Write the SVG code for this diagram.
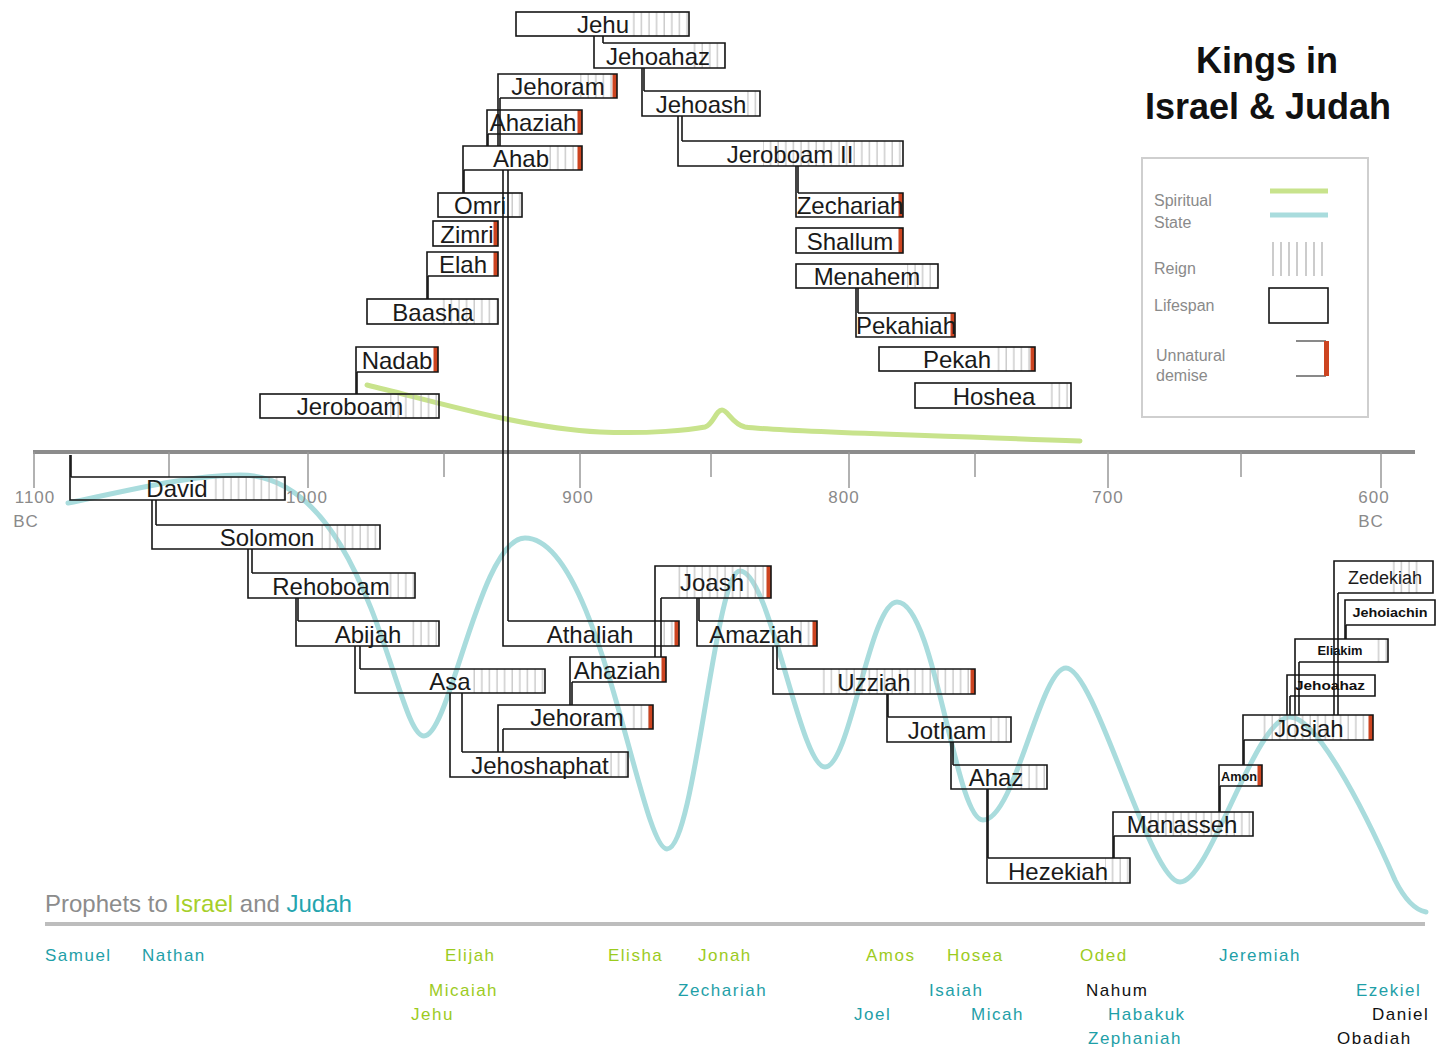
<svg xmlns="http://www.w3.org/2000/svg" width="1436" height="1047" viewBox="0 0 1436 1047">
<defs>
<pattern id="reign" patternUnits="userSpaceOnUse" x="0" y="0" width="7.6" height="40"><line x1="3" y1="0" x2="3" y2="40" stroke="#b9b9b9" stroke-width="1.1"/></pattern>
</defs>
<style>
text{font-family:'Liberation Sans',Arial,sans-serif}
.box{fill:none;stroke:#151515;stroke-width:1.6}
.nm{font-size:24px;fill:#1a1a1a;text-anchor:middle}
.sm{font-size:13px;font-weight:bold;fill:#111;text-anchor:middle}
.hatch{fill:url(#reign)}
.dem{fill:#cc4420}
.conn line{stroke:#151515;stroke-width:1.6}
.ax{font-size:17px;fill:#8a8a8a;text-anchor:middle;letter-spacing:1px}
.tick{stroke:#999;stroke-width:1.5}
.leg{font-size:16px;fill:#8a8a8a}
.pr{font-size:17px;letter-spacing:1.5px}
.is{fill:#9ccb1e}
.ju{fill:#1f9fa8}
.bk{fill:#111}
</style>
<rect width="1436" height="1047" fill="#fff"/>

<g id="title">
<text x="1267" y="73" font-size="36" font-weight="bold" text-anchor="middle" fill="#111">Kings in</text>
<text x="1268" y="119" font-size="36" font-weight="bold" text-anchor="middle" fill="#111">Israel &amp; Judah</text>
</g>

<g id="spiritual-curves" fill="none" stroke-linecap="round">
<path d="M367,385 C430,400 520,428 600,432 C650,434 690,430 705,427 C713,425 716,410 722,410 C728,410 732,424 745,427 C780,432 900,434 1080,441" stroke="#c8e38c" stroke-width="5"/>
<path d="M68,503 C130,490 190,475 240,475 C370,475 395,736 424,736 C450,736 480,538 525,538 C600,538 640,849 667,849 C695,849 715,571 740,571 C770,571 800,767 825,767 C850,767 870,602 897,602 C935,602 955,820 983,820 C1015,820 1040,668 1066,668 C1095,668 1150,882 1180,882 C1210,882 1255,717 1290,717 C1315,717 1360,800 1395,880 C1405,900 1415,910 1426,912" stroke="#a9dcdd" stroke-width="5"/>
</g>

<g id="axis">
<line x1="33" y1="452" x2="1415" y2="452" stroke="#8c8c8c" stroke-width="4"/>
<line class="tick" x1="34" y1="452" x2="34" y2="488"/>
<line class="tick" x1="308" y1="452" x2="308" y2="488"/>
<line class="tick" x1="580" y1="452" x2="580" y2="488"/>
<line class="tick" x1="849" y1="452" x2="849" y2="488"/>
<line class="tick" x1="1108" y1="452" x2="1108" y2="488"/>
<line class="tick" x1="1381" y1="452" x2="1381" y2="488"/>
<line class="tick" x1="169" y1="452" x2="169" y2="477"/>
<line class="tick" x1="444" y1="452" x2="444" y2="477"/>
<line class="tick" x1="711" y1="452" x2="711" y2="477"/>
<line class="tick" x1="975" y1="452" x2="975" y2="477"/>
<line class="tick" x1="1241" y1="452" x2="1241" y2="477"/>
<text class="ax" x="35" y="503">1100</text>
<text class="ax" x="26" y="527">BC</text>
<text class="ax" x="307" y="503">1000</text>
<text class="ax" x="578" y="503">900</text>
<text class="ax" x="844" y="503">800</text>
<text class="ax" x="1108" y="503">700</text>
<text class="ax" x="1374" y="503">600</text>
<text class="ax" x="1371" y="527">BC</text>
</g>

<g id="connectors" class="conn">
<line x1="594" y1="36" x2="594" y2="43"/><line x1="603" y1="36" x2="603" y2="43"/>
<line x1="642" y1="68" x2="642" y2="91"/><line x1="644" y1="68" x2="644" y2="91"/>
<line x1="678" y1="116" x2="678" y2="141"/><line x1="682" y1="116" x2="682" y2="141"/>
<line x1="796" y1="166" x2="796" y2="193"/><line x1="798" y1="166" x2="798" y2="193"/>
<line x1="856" y1="288" x2="856" y2="313"/><line x1="858" y1="288" x2="858" y2="313"/>
<line x1="498" y1="98" x2="498" y2="146"/><line x1="500" y1="98" x2="500" y2="146"/>
<line x1="487" y1="134" x2="487" y2="146"/><line x1="488" y1="134" x2="488" y2="146"/>
<line x1="463" y1="170" x2="463" y2="193"/><line x1="464" y1="170" x2="464" y2="193"/>
<line x1="427" y1="276" x2="427" y2="299"/><line x1="428" y1="276" x2="428" y2="299"/>
<line x1="356" y1="372" x2="356" y2="394"/><line x1="357" y1="372" x2="357" y2="394"/>
<line x1="70" y1="455" x2="70" y2="477"/><line x1="71" y1="455" x2="71" y2="477"/>
<line x1="152" y1="500" x2="152" y2="525"/><line x1="156" y1="500" x2="156" y2="525"/>
<line x1="248" y1="549" x2="248" y2="573"/><line x1="252" y1="549" x2="252" y2="573"/>
<line x1="296" y1="598" x2="296" y2="621"/><line x1="298" y1="598" x2="298" y2="621"/>
<line x1="355" y1="646" x2="355" y2="669"/><line x1="360" y1="646" x2="360" y2="669"/>
<line x1="450" y1="693" x2="450" y2="752"/><line x1="462" y1="693" x2="462" y2="752"/>
<line x1="498" y1="729" x2="498" y2="752"/><line x1="503" y1="729" x2="503" y2="752"/>
<line x1="570" y1="682" x2="570" y2="705"/><line x1="572" y1="682" x2="572" y2="705"/>
<line x1="503" y1="170" x2="503" y2="621"/><line x1="508" y1="170" x2="508" y2="621"/>
<line x1="655" y1="598" x2="655" y2="657"/><line x1="661" y1="598" x2="661" y2="657"/>
<line x1="697" y1="598" x2="697" y2="621"/><line x1="699" y1="598" x2="699" y2="621"/>
<line x1="773" y1="646" x2="773" y2="669"/><line x1="777" y1="646" x2="777" y2="669"/>
<line x1="887" y1="694" x2="887" y2="717"/><line x1="888" y1="694" x2="888" y2="717"/>
<line x1="951" y1="742" x2="951" y2="765"/><line x1="953" y1="742" x2="953" y2="765"/>
<line x1="987" y1="789" x2="987" y2="858"/><line x1="988" y1="789" x2="988" y2="858"/>
<line x1="1113" y1="836" x2="1113" y2="858"/><line x1="1114" y1="836" x2="1114" y2="858"/>
<line x1="1219" y1="786" x2="1219" y2="812"/><line x1="1220" y1="786" x2="1220" y2="812"/>
<line x1="1243" y1="740" x2="1243" y2="765"/><line x1="1244" y1="740" x2="1244" y2="765"/>
<line x1="1287" y1="696" x2="1287" y2="715"/><line x1="1290" y1="696" x2="1290" y2="715"/>
<line x1="1295" y1="662" x2="1295" y2="715"/><line x1="1299" y1="662" x2="1299" y2="715"/>
<line x1="1345" y1="625" x2="1345" y2="639"/><line x1="1346" y1="625" x2="1346" y2="639"/>
<line x1="1334" y1="593" x2="1334" y2="715"/><line x1="1338" y1="593" x2="1338" y2="715"/>
</g>

<g id="israel">
<g id="k-jehu"><rect class="hatch" x="630" y="12" width="59" height="24"/><rect class="box" x="516" y="12" width="173" height="24"/><text class="nm" x="603" y="33">Jehu</text></g>
<g id="k-jehoahaz-i"><rect class="hatch" x="693" y="43" width="32" height="25"/><path class="box" d="M603,43H725V68H594V43"/><text class="nm" x="658" y="65">Jehoahaz</text></g>
<g id="k-jehoash"><rect class="hatch" x="747" y="91" width="13" height="25"/><path class="box" d="M644,91H760V116H642V91"/><text class="nm" x="701" y="113">Jehoash</text></g>
<g id="k-jeroboam2"><rect class="hatch" x="763" y="141" width="140" height="25"/><path class="box" d="M682,141H903V166H678V141"/><text class="nm" x="790" y="163">Jeroboam II</text></g>
<g id="k-zechariah"><rect class="dem" x="898.5" y="193" width="4.5" height="24"/><path class="box" d="M798,193H903V217H796V193"/><text class="nm" x="850" y="214">Zechariah</text></g>
<g id="k-shallum"><rect class="dem" x="898.5" y="228" width="4.5" height="25"/><rect class="box" x="796" y="228" width="107" height="25"/><text class="nm" x="850" y="250">Shallum</text></g>
<g id="k-menahem"><rect class="hatch" x="907" y="264" width="31" height="24"/><rect class="box" x="796" y="264" width="142" height="24"/><text class="nm" x="867" y="285">Menahem</text></g>
<g id="k-pekahiah"><rect class="hatch" x="946" y="313" width="9" height="24"/><rect class="dem" x="950.5" y="313" width="4.5" height="24"/><path class="box" d="M858,313H955V337H856V313"/><text class="nm" x="906" y="334">Pekahiah</text></g>
<g id="k-pekah"><rect class="hatch" x="992" y="347" width="43" height="24"/><rect class="dem" x="1030.5" y="347" width="4.5" height="24"/><rect class="box" x="879" y="347" width="156" height="24"/><text class="nm" x="957" y="368">Pekah</text></g>
<g id="k-hoshea"><rect class="hatch" x="1050" y="383" width="21" height="25"/><rect class="box" x="915" y="383" width="156" height="25"/><text class="nm" x="994" y="405">Hoshea</text></g>
<g id="k-jehoram-i"><rect class="hatch" x="580" y="74" width="37" height="24"/><rect class="dem" x="612.5" y="74" width="4.5" height="24"/><path class="box" d="M500,98H617V74H498V98"/><text class="nm" x="558" y="95">Jehoram</text></g>
<g id="k-ahaziah-i"><rect class="dem" x="577.5" y="110" width="4.5" height="24"/><path class="box" d="M488,134H582V110H487V134"/><text class="nm" x="533" y="131">Ahaziah</text></g>
<g id="k-ahab"><rect class="hatch" x="547" y="146" width="35" height="24"/><rect class="dem" x="577.5" y="146" width="4.5" height="24"/><path class="box" d="M464,170H582V146H463V170"/><text class="nm" x="521" y="167">Ahab</text></g>
<g id="k-omri"><rect class="hatch" x="507" y="193" width="15" height="24"/><rect class="box" x="438" y="193" width="84" height="24"/><text class="nm" x="480" y="214">Omri</text></g>
<g id="k-zimri"><rect class="dem" x="493.5" y="221" width="4.5" height="25"/><rect class="box" x="433" y="221" width="65" height="25"/><text class="nm" x="467" y="243">Zimri</text></g>
<g id="k-elah"><rect class="dem" x="493.5" y="252" width="4.5" height="24"/><path class="box" d="M428,276H498V252H427V276"/><text class="nm" x="463" y="273">Elah</text></g>
<g id="k-baasha"><rect class="hatch" x="440" y="299" width="58" height="25"/><rect class="box" x="367" y="299" width="131" height="25"/><text class="nm" x="433" y="321">Baasha</text></g>
<g id="k-nadab"><rect class="dem" x="433.5" y="347" width="4.5" height="25"/><path class="box" d="M357,372H438V347H356V372"/><text class="nm" x="397" y="369">Nadab</text></g>
<g id="k-jeroboam"><rect class="hatch" x="390" y="394" width="49" height="24"/><rect class="box" x="260" y="394" width="179" height="24"/><text class="nm" x="350" y="415">Jeroboam</text></g>
</g>

<g id="judah">
<g id="k-david"><rect class="hatch" x="210" y="477" width="75" height="23"/><path class="box" d="M71,477H285V500H70V477"/><text class="nm" x="177" y="497">David</text></g>
<g id="k-solomon"><rect class="hatch" x="317" y="525" width="63" height="24"/><path class="box" d="M156,525H380V549H152V525"/><text class="nm" x="267" y="546">Solomon</text></g>
<g id="k-rehoboam"><rect class="hatch" x="386" y="573" width="29" height="25"/><path class="box" d="M252,573H415V598H248V573"/><text class="nm" x="331" y="595">Rehoboam</text></g>
<g id="k-abijah"><rect class="hatch" x="411" y="621" width="28" height="25"/><path class="box" d="M298,621H439V646H296V621"/><text class="nm" x="368" y="643">Abijah</text></g>
<g id="k-asa"><rect class="hatch" x="472" y="669" width="73" height="24"/><path class="box" d="M360,669H545V693H355V669"/><text class="nm" x="450" y="690">Asa</text></g>
<g id="k-jehoshaphat"><rect class="hatch" x="605" y="752" width="23" height="25"/><path class="box" d="M462,752H628V777H450V752"/><text class="nm" x="540" y="774">Jehoshaphat</text></g>
<g id="k-jehoram-j"><rect class="hatch" x="630" y="705" width="23" height="24"/><rect class="dem" x="648.5" y="705" width="4.5" height="24"/><path class="box" d="M503,729H653V705H498V729"/><text class="nm" x="577" y="726">Jehoram</text></g>
<g id="k-ahaziah-j"><rect class="dem" x="661.5" y="657" width="4.5" height="25"/><path class="box" d="M572,682H666V657H570V682"/><text class="nm" x="617" y="679">Ahaziah</text></g>
<g id="k-athaliah"><rect class="hatch" x="660" y="621" width="19" height="25"/><rect class="dem" x="674.5" y="621" width="4.5" height="25"/><path class="box" d="M508,621H679V646H503V621"/><text class="nm" x="590" y="643">Athaliah</text></g>
<g id="k-joash"><rect class="hatch" x="677" y="566" width="94" height="32"/><rect class="dem" x="766.5" y="566" width="4.5" height="32"/><path class="box" d="M661,598H771V566H655V598"/><text class="nm" x="712" y="591">Joash</text></g>
<g id="k-amaziah"><rect class="hatch" x="797" y="621" width="20" height="25"/><rect class="dem" x="812.5" y="621" width="4.5" height="25"/><path class="box" d="M699,621H817V646H697V621"/><text class="nm" x="756" y="643">Amaziah</text></g>
<g id="k-uzziah"><rect class="hatch" x="820" y="669" width="155" height="25"/><rect class="dem" x="970.5" y="669" width="4.5" height="25"/><path class="box" d="M777,669H975V694H773V669"/><text class="nm" x="874" y="691">Uzziah</text></g>
<g id="k-jotham"><rect class="hatch" x="987" y="717" width="24" height="25"/><path class="box" d="M888,717H1011V742H887V717"/><text class="nm" x="947" y="739">Jotham</text></g>
<g id="k-ahaz"><rect class="hatch" x="1020" y="765" width="27" height="24"/><path class="box" d="M953,765H1047V789H951V765"/><text class="nm" x="996" y="786">Ahaz</text></g>
<g id="k-hezekiah"><rect class="hatch" x="1105" y="858" width="25" height="25"/><path class="box" d="M988,858H1130V883H987V858"/><text class="nm" x="1058" y="880">Hezekiah</text></g>
<g id="k-manasseh"><rect class="hatch" x="1150" y="812" width="103" height="24"/><path class="box" d="M1114,836H1253V812H1113V836"/><text class="nm" x="1182" y="833">Manasseh</text></g>
<g id="k-amon"><rect class="dem" x="1257.5" y="765" width="4.5" height="21"/><path class="box" d="M1220,786H1262V765H1219V786"/><text class="sm" x="1239" y="781" textLength="36" lengthAdjust="spacingAndGlyphs">Amon</text></g>
<g id="k-josiah"><rect class="hatch" x="1263" y="715" width="110" height="25"/><rect class="dem" x="1368.5" y="715" width="4.5" height="25"/><path class="box" d="M1244,740H1373V715H1243V740"/><text class="nm" x="1309" y="737">Josiah</text></g>
<g id="k-jehoahaz-j"><path class="box" d="M1290,696H1375V675H1287V696"/><text class="sm" x="1330" y="690" textLength="70" lengthAdjust="spacingAndGlyphs">Jehoahaz</text></g>
<g id="k-eliakim"><rect class="hatch" x="1377" y="639" width="11" height="23"/><path class="box" d="M1299,662H1388V639H1295V662"/><text class="sm" x="1340" y="655" textLength="45" lengthAdjust="spacingAndGlyphs">Eliakim</text></g>
<g id="k-jehoiachin"><path class="box" d="M1346,625H1435V600H1345V625"/><text class="sm" x="1390" y="617" textLength="75" lengthAdjust="spacingAndGlyphs">Jehoiachin</text></g>
<g id="k-zedekiah"><rect class="hatch" x="1392" y="561" width="26" height="32"/><path class="box" d="M1338,593H1433V561H1334V593"/><text class="nm" x="1385" y="584" style="font-size:18px">Zedekiah</text></g>
</g>

<g id="legend">
<rect x="1142" y="158" width="226" height="259" fill="none" stroke="#cfcfcf" stroke-width="2"/>
<text class="leg" x="1154" y="206">Spiritual</text>
<text class="leg" x="1154" y="228">State</text>
<line x1="1270" y1="191" x2="1328" y2="191" stroke="#c8e38c" stroke-width="5"/>
<line x1="1270" y1="215" x2="1328" y2="215" stroke="#a9dcdd" stroke-width="5"/>
<text class="leg" x="1154" y="274">Reign</text>
<g stroke="#bbb" stroke-width="1.5">
<line x1="1273" y1="242" x2="1273" y2="276"/><line x1="1281" y1="242" x2="1281" y2="276"/><line x1="1289" y1="242" x2="1289" y2="276"/><line x1="1297" y1="242" x2="1297" y2="276"/><line x1="1306" y1="242" x2="1306" y2="276"/><line x1="1314" y1="242" x2="1314" y2="276"/><line x1="1322" y1="242" x2="1322" y2="276"/>
</g>
<text class="leg" x="1154" y="311">Lifespan</text>
<rect x="1269" y="288" width="59" height="35" fill="none" stroke="#151515" stroke-width="1.6"/>
<text class="leg" x="1156" y="361">Unnatural</text>
<text class="leg" x="1156" y="381">demise</text>
<path d="M1296,341H1326M1296,376H1326" stroke="#151515" stroke-width="1.2" fill="none"/>
<rect x="1324" y="341" width="5" height="35" fill="#cc4420"/>
</g>

<g id="prophets">
<text x="45" y="912" font-size="24" fill="#8c8c8c">Prophets to <tspan fill="#a6cf2a">Israel</tspan> and <tspan fill="#24a4ae">Judah</tspan></text>
<line x1="45" y1="924" x2="1425" y2="924" stroke="#bdbdbd" stroke-width="4"/>
<text class="pr ju" x="45" y="961">Samuel</text>
<text class="pr ju" x="142" y="961">Nathan</text>
<text class="pr is" x="445" y="961">Elijah</text>
<text class="pr is" x="608" y="961">Elisha</text>
<text class="pr is" x="698" y="961">Jonah</text>
<text class="pr is" x="866" y="961">Amos</text>
<text class="pr is" x="947" y="961">Hosea</text>
<text class="pr is" x="1080" y="961">Oded</text>
<text class="pr ju" x="1219" y="961">Jeremiah</text>
<text class="pr is" x="429" y="996">Micaiah</text>
<text class="pr ju" x="678" y="996">Zechariah</text>
<text class="pr ju" x="929" y="996">Isaiah</text>
<text class="pr bk" x="1086" y="996">Nahum</text>
<text class="pr ju" x="1356" y="996">Ezekiel</text>
<text class="pr is" x="411" y="1020">Jehu</text>
<text class="pr ju" x="854" y="1020">Joel</text>
<text class="pr ju" x="971" y="1020">Micah</text>
<text class="pr ju" x="1108" y="1020">Habakuk</text>
<text class="pr bk" x="1372" y="1020">Daniel</text>
<text class="pr ju" x="1088" y="1044">Zephaniah</text>
<text class="pr bk" x="1337" y="1044">Obadiah</text>
</g>
</svg>
